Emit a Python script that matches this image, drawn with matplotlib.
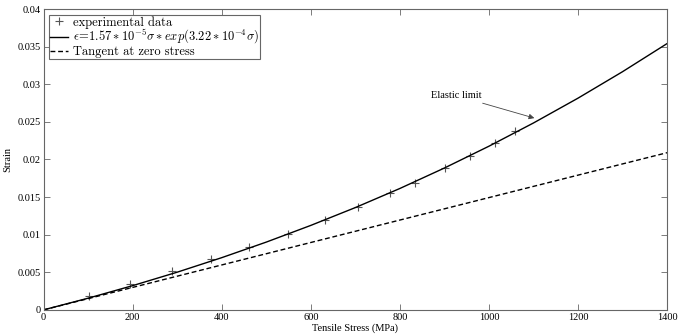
import matplotlib
matplotlib.use("Agg")
import matplotlib.pyplot as plt

# experimental points
stress_exp = [102, 194, 288, 375, 461, 548, 633, 707, 777, 835, 902, 958, 1014, 1059]
strain_exp = [0.00186, 0.00346, 0.00519, 0.00678, 0.00838, 0.0101, 0.0120, 0.0137,
              0.0156, 0.0169, 0.0188, 0.0204, 0.0222, 0.0238]

# fitted curve, read at 100 MPa steps
stress_fit = [0, 100, 200, 300, 400, 500, 600, 700, 800, 900, 1000, 1100, 1200, 1300, 1400]
strain_fit = [0, 0.00155, 0.00322, 0.00501, 0.00694, 0.00901, 0.01123, 0.01360, 0.01614,
              0.01886, 0.02176, 0.02485, 0.02815, 0.03167, 0.03541]

# tangent line at zero stress
stress_tan = [0, 1400]
strain_tan = [0, 0.0209]

xticks = [0, 200, 400, 600, 800, 1000, 1200, 1400]
yticks = [0, 0.005, 0.01, 0.015, 0.02, 0.025, 0.03, 0.035, 0.04]
ytick_labels = ['0', '0.005', '0.01', '0.015', '0.02', '0.025', '0.03', '0.035', '0.04']

plt.rcParams['mathtext.fontset'] = 'cm'

fig = plt.figure(figsize=(6.8, 3.35), dpi=100)
ax = fig.add_axes([0.064, 0.075, 0.917, 0.898])

ax.plot(stress_exp, strain_exp, '+', color='#555555', markersize=6, markeredgewidth=0.8,
        label='experimental data')
ax.plot(stress_fit, strain_fit, '-', color='black', linewidth=1.0,
        label=r'$\epsilon\!=\!1.57*10^{-5}\sigma*exp(3.22*10^{-4}\sigma)$')
ax.plot(stress_tan, strain_tan, '--', color='black', linewidth=1.0, dashes=(3.5, 2),
        label='Tangent at zero stress')

ax.set_xlim(0, 1400)
ax.set_ylim(0, 0.04)
ax.set_xticks(xticks)
ax.set_xticklabels([str(t) for t in xticks], family='Liberation Serif', fontsize=7.5)
ax.set_yticks(yticks)
ax.set_yticklabels(ytick_labels, family='Liberation Serif', fontsize=7.5)
ax.tick_params(direction='in', top=True, right=True, length=4, width=0.6,
               color='#666666', pad=2)
for s in ax.spines.values():
    s.set_color('#666666')
    s.set_linewidth(0.8)

ax.set_xlabel('Tensile Stress (MPa)', family='Liberation Serif', fontsize=7.5, labelpad=1)
ax.set_ylabel('Strain', family='Liberation Serif', fontsize=7.5, labelpad=4)

ax.annotate('Elastic limit', xy=(1102, 0.0255), xytext=(983, 0.0285),
            ha='right', va='center', family='Liberation Serif', fontsize=7.5,
            arrowprops=dict(arrowstyle='-|>', color='#444444', lw=0.6,
                            mutation_scale=8, shrinkA=1, shrinkB=0))

leg = ax.legend(loc='upper left', prop={'family': 'cmr10', 'size': 9},
                handlelength=1.4, handletextpad=0.4, borderpad=0.1,
                labelspacing=-0.05, fancybox=False, framealpha=1,
                borderaxespad=0.45)
leg.get_frame().set_edgecolor('#666666')
leg.get_frame().set_linewidth(0.8)

fig.savefig('out.png', dpi=100)
